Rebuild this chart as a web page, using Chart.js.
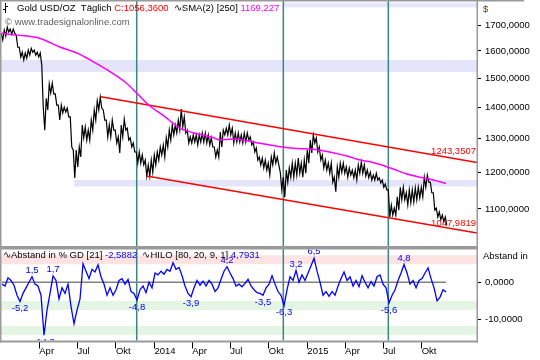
<!DOCTYPE html>
<html>
<head>
<meta charset="utf-8">
<script src="https://cdn.jsdelivr.net/npm/chart.js"></script>
<style>
  html, body { margin: 0; padding: 0; background: #fff; }
  #wrap { position: relative; width: 540px; height: 360px; overflow: hidden; }
  #wrap canvas { position: absolute; left: 0; }
  #priceChart { top: 0; }
  #oscChart { top: 247px; }
</style>
</head>
<body>
<div id="wrap">
  <canvas id="priceChart" width="540" height="247"></canvas>
  <canvas id="oscChart" width="540" height="113"></canvas>
</div>
<script>
// x axis is in calendar days since 1 Jan 2013
const tickDays = [90, 181, 273, 365, 455, 546, 638, 730, 820, 911, 1003];
const tickLabels = ['Apr', 'Jul', 'Okt', '2014', 'Apr', 'Jul', 'Okt', '2015', 'Apr', 'Jul', 'Okt'];
const firstDay = -1.4;
const lastDay = 1135;

// weekly high / low of the daily close
const sampleStartDay = 1;
const sampleStepDays = 7.163;
const goldHigh = [
  1669, 1681, 1693, 1685, 1685, 1661, 1614, 1595, 1592, 1603,
  1610, 1603, 1595, 1592, 1400, 1430, 1479, 1482, 1445, 1407,
  1407, 1400, 1397, 1368, 1265, 1265, 1274, 1342, 1336, 1326,
  1358, 1391, 1421, 1434, 1391, 1358, 1342, 1358, 1326, 1305,
  1342, 1361, 1332, 1302, 1286, 1259, 1259, 1250, 1235, 1221,
  1235, 1250, 1259, 1274, 1280, 1302, 1326, 1342, 1342, 1358,
  1394, 1368, 1326, 1305, 1311, 1311, 1311, 1317, 1317, 1311,
  1302, 1274, 1265, 1320, 1326, 1332, 1342, 1332, 1317, 1317,
  1311, 1317, 1317, 1305, 1289, 1271, 1244, 1241, 1235, 1226,
  1244, 1256, 1244, 1200, 1186, 1206, 1212, 1226, 1226, 1241,
  1226, 1235, 1265, 1295, 1311, 1302, 1274, 1250, 1235, 1226,
  1226, 1186, 1215, 1226, 1226, 1215, 1212, 1206, 1206, 1221,
  1229, 1221, 1206, 1200, 1192, 1197, 1184, 1178, 1167, 1151,
  1110, 1102, 1132, 1158, 1158, 1143, 1151, 1151, 1156, 1158,
  1158, 1186, 1192, 1172, 1143, 1102, 1092, 1084, 1079
];
const goldLow = [
  1642, 1657, 1673, 1665, 1669, 1614, 1577, 1566, 1573, 1584,
  1595, 1584, 1577, 1547, 1326, 1391, 1448, 1445, 1407, 1358,
  1381, 1384, 1368, 1274, 1184, 1215, 1244, 1302, 1295, 1295,
  1326, 1358, 1391, 1397, 1358, 1305, 1305, 1326, 1286, 1256,
  1305, 1326, 1295, 1274, 1259, 1226, 1226, 1221, 1189, 1189,
  1200, 1221, 1235, 1250, 1244, 1274, 1295, 1311, 1317, 1326,
  1336, 1317, 1286, 1286, 1289, 1280, 1289, 1289, 1286, 1280,
  1274, 1244, 1244, 1274, 1311, 1311, 1311, 1286, 1289, 1289,
  1286, 1289, 1295, 1280, 1259, 1235, 1221, 1212, 1206, 1192,
  1221, 1226, 1221, 1151, 1131, 1172, 1186, 1186, 1192, 1197,
  1186, 1197, 1226, 1256, 1286, 1259, 1235, 1212, 1206, 1197,
  1172, 1146, 1186, 1200, 1197, 1186, 1192, 1184, 1178, 1197,
  1197, 1189, 1184, 1178, 1178, 1178, 1170, 1158, 1151, 1079,
  1084, 1084, 1097, 1124, 1124, 1110, 1116, 1118, 1124, 1129,
  1132, 1158, 1172, 1143, 1097, 1079, 1072, 1067, 1058
];

// % distance from the 21 day average, same weekly sampling
const oscValues = [
  -0.5, -1.0, 1.2, 0.5, -0.8, -3.5, -5.2, -3.0, -1.5, 0.0,
  1.5, -0.5, -1.0, -3.5, -14.3, -7.5, -3.0, 1.7, 0.5, -4.5,
  -1.5, -3.0, -0.5, -6.5, -11.2, -7.5, -4.5, 5.0, 3.0, 1.0,
  3.5, 2.8, 4.7, 1.5, -0.5, -3.5, -1.5, -3.5, -2.0, 0.5,
  1.0, -0.5, 0.8, -2.5, -3.0, -4.8, -2.0, -1.0, -2.8, 0.0,
  -1.5, 2.5, 2.0, 3.0, 2.2, 3.5, 3.0, 5.3, 3.5, 4.0,
  1.8, -1.0, -3.0, -3.9, -1.5, 0.5, -0.8, 0.3, -1.0, 0.5,
  -0.5, -2.5, -1.5, 0.8, 3.0, 4.2, 2.5, 1.0, -1.0, -0.5,
  -1.2, -0.3, 0.8, -1.0, -2.0, -2.8, -3.0, -3.5, -1.5, -0.5,
  1.8, -0.5, -2.5, -3.5, -6.3, -2.0, 1.5, 0.5, 3.2, 0.0,
  2.0, 0.5, 2.5, 4.5, 6.5, 3.0, 0.0, -3.5, -2.5, -3.8,
  -2.5, -3.5, -1.0, 1.0, 2.8, 0.5, 1.5, -1.0, 0.5, -1.2,
  1.8, 0.0, -1.5, 0.2, -1.0, 1.5, 2.0, -0.5, -1.5, -5.6,
  -3.5, -2.0, 0.5, 2.5, 4.8, 2.5, -0.5, 0.5, -1.5, 0.5,
  1.0, 2.5, 3.9, 1.0, -1.5, -5.0, -4.0, -2.0, -2.6
];
// samples whose value is written next to the curve
const oscPeakIdx = [6, 10, 14, 17, 45, 63, 75, 87, 94, 98, 104, 129, 134];

// 250 day moving average
const smaDays = [1, 37, 92, 139, 180, 218, 259, 299, 323, 354, 385, 426, 457, 505, 521, 553,
  586, 617, 665, 696, 744, 791, 825, 856, 880, 904, 935, 968, 999, 1030, 1061];
const smaValues = [1668, 1661, 1648, 1615, 1592, 1560, 1523, 1481, 1447, 1404, 1374, 1332, 1318, 1303, 1295, 1298,
  1293, 1285, 1275, 1270, 1267, 1257, 1247, 1235, 1230, 1222, 1209, 1195, 1186, 1178, 1169];

// trend channel
const upperDays = [237, 1135];
const upperValues = [1435, 1228];
const lowerDays = [346, 1135];
const lowerValues = [1189, 1039];
const channelLabels = [1243.3507, 1047.9819];

// shaded zones
const priceBandLow = [1774, 1522, 1160];
const priceBandHigh = [1793, 1566, 1178];
const priceBandFrom = [672, -1.4, 173];
const oscBandLow = [4.9, -7.5, -14.2];
const oscBandHigh = [7.3, -5.05, -11.8];

// vertical marker dates
const markerDays = [322.6, 672.6, 923.3];

const priceTicks = [1100, 1200, 1300, 1400, 1500, 1600, 1700];
const oscTicks = [0, -10];

const lastClose = 1056.36;
const lastSma = 1169.227;
const lastOsc = -2.5882;
const lastHilo = 4.7931;

const FONT = '"Liberation Sans", Arial, sans-serif';
const TXT = '9.5px ' + FONT;
Chart.defaults.font.family = FONT;
Chart.defaults.font.size = 9.5;
Chart.defaults.color = '#000';

const fmt = (v, d) => Number(v).toFixed(d).replace('.', ',');
const xDay = i => sampleStartDay + i * sampleStepDays;
const FRAME = '#9a9a9a';
const TEAL = '#3b8585';

// daily-looking close line: each week visits its high then its low
const goldPoints = [];
goldHigh.forEach((hi, i) => {
  goldPoints.push({ x: xDay(i) - 1.8, y: hi });
  goldPoints.push({ x: xDay(i) + 1.8, y: goldLow[i] });
});

function drawMarkers(chart) {
  const { ctx, chartArea: a, scales: { x } } = chart;
  ctx.save();
  ctx.strokeStyle = TEAL;
  ctx.lineWidth = 1.5;
  markerDays.forEach(d => {
    const px = x.getPixelForValue(d);
    ctx.beginPath();
    ctx.moveTo(px, 0);
    ctx.lineTo(px, a.bottom);
    ctx.stroke();
  });
  ctx.restore();
}

function drawRun(ctx, parts, x, y) {
  parts.forEach(([t, c]) => {
    ctx.fillStyle = c;
    ctx.fillText(t, x, y);
    x += ctx.measureText(t).width;
  });
}

const priceDecor = {
  id: 'priceDecor',
  beforeDatasetsDraw(chart) {
    const { ctx, chartArea: a, scales: { x, y } } = chart;
    ctx.save();
    ctx.fillStyle = 'rgb(228,228,250)';
    priceBandLow.forEach((lo, i) => {
      const x0 = Math.max(a.left, x.getPixelForValue(priceBandFrom[i]));
      const yt = Math.max(a.top, y.getPixelForValue(priceBandHigh[i]));
      const yb = y.getPixelForValue(lo);
      ctx.fillRect(x0, yt, a.right - x0, yb - yt);
    });
    ctx.restore();
    drawMarkers(chart);
  },
  afterDatasetsDraw(chart) {
    const { ctx, chartArea: a, scales: { y } } = chart;
    ctx.save();
    ctx.font = TXT;
    // channel values
    ctx.fillStyle = '#ff0000';
    ctx.textAlign = 'right';
    ctx.textBaseline = 'middle';
    channelLabels.forEach(v => ctx.fillText(fmt(v, 4), a.right - 1, y.getPixelForValue(v) - 6));
    // frame
    ctx.fillStyle = FRAME;
    ctx.fillRect(0, 0, 524, 1.5);
    ctx.fillRect(0, 0, 1.5, a.bottom);
    ctx.fillRect(a.right - 0.5, 0, 1.5, a.bottom);
    ctx.fillRect(0, a.bottom - 1, a.right + 1, 1);
    // header
    ctx.textAlign = 'left';
    ctx.fillStyle = '#000';
    ctx.fillRect(5, 3, 1, 10);
    ctx.fillRect(3, 9, 2, 1);
    ctx.fillRect(6, 6, 2, 1);
    drawRun(ctx, [['Gold USD/OZ  T\u00e4glich ', '#000'], ['C:' + fmt(lastClose, 4), '#ff0000'],
      ['  \u223FSMA(2) [250] ', '#000'], [fmt(lastSma, 3), '#ff00ff']], 17, 8);
    ctx.fillStyle = '#606060';
    ctx.fillText('\u00a9 www.tradesignalonline.com', 5, 22);
    ctx.fillStyle = '#5a4000';
    ctx.fillText('$', 483, 9);
    ctx.restore();
  }
};

const oscDecor = {
  id: 'oscDecor',
  beforeDatasetsDraw(chart) {
    const { ctx, chartArea: a, scales: { y } } = chart;
    ctx.save();
    oscBandLow.forEach((lo, i) => {
      ctx.fillStyle = oscBandHigh[i] > 0 ? 'rgb(255,226,226)' : 'rgb(228,245,228)';
      const yt = y.getPixelForValue(oscBandHigh[i]);
      const yb = y.getPixelForValue(lo);
      ctx.fillRect(a.left, yt, a.right - a.left, yb - yt);
    });
    ctx.restore();
    drawMarkers(chart);
  },
  afterDatasetsDraw(chart) {
    const { ctx, chartArea: a, scales: { x, y } } = chart;
    ctx.save();
    ctx.font = TXT;
    ctx.beginPath();
    ctx.rect(a.left, a.top - 1.5, a.right - a.left, a.bottom - a.top + 1.5);
    ctx.clip();
    ctx.fillStyle = '#0000ff';
    ctx.textAlign = 'center';
    ctx.textBaseline = 'middle';
    oscPeakIdx.forEach(i => {
      const v = oscValues[i];
      const px = x.getPixelForValue(xDay(i));
      const py = y.getPixelForValue(v);
      ctx.fillText(fmt(v, 1), px, v >= 0 ? py - 6.5 : py + 7);
    });
    ctx.restore();

    ctx.save();
    ctx.fillStyle = FRAME;
    ctx.fillRect(0, 0, a.right + 1, 2.5);
    ctx.fillRect(0, 0, 1.5, a.bottom + 2);
    ctx.fillRect(a.right - 0.5, 0, 1.5, a.bottom + 2);
    ctx.fillRect(0, a.bottom, a.right + 1, 2);
    ctx.font = TXT;
    ctx.textBaseline = 'middle';
    ctx.textAlign = 'left';
    drawRun(ctx, [['\u223FAbstand in % GD [21] ', '#000'], [fmt(lastOsc, 4), '#0000ff'],
      ['  \u223FHILO [80, 20, 9, 1] ', '#000'], [fmt(lastHilo, 4), '#0000ff']], 3, 8);
    ctx.fillStyle = '#000';
    ctx.fillText('Abstand in', 483, 9);
    ctx.restore();
  }
};

const common = {
  responsive: false,
  animation: false,
  events: [],
  elements: { point: { radius: 0 }, line: { tension: 0 } },
  plugins: { legend: { display: false }, tooltip: { enabled: false } }
};

new Chart(document.getElementById('priceChart'), {
  type: 'line',
  data: {
    datasets: [
      { data: smaDays.map((d, i) => ({ x: d, y: smaValues[i] })), borderColor: '#ff00ff', borderWidth: 1.5, cubicInterpolationMode: 'monotone' },
      { data: upperDays.map((d, i) => ({ x: d, y: upperValues[i] })), borderColor: '#ff0000', borderWidth: 1.5 },
      { data: lowerDays.map((d, i) => ({ x: d, y: lowerValues[i] })), borderColor: '#ff0000', borderWidth: 1.5 },
      { data: goldPoints, borderColor: '#000', borderWidth: 1.2 }
    ]
  },
  options: {
    ...common,
    layout: { padding: { left: 1, top: 1, right: 0, bottom: 0 } },
    scales: {
      x: { type: 'linear', min: firstDay, max: lastDay, display: false },
      y: {
        type: 'logarithmic', position: 'right', min: 1005, max: 1801,
        afterFit: s => { s.width = 63; s.paddingTop = 0; s.paddingBottom = 0; },
        afterBuildTicks: s => { s.ticks = priceTicks.map(v => ({ value: v })); },
        grid: { drawOnChartArea: false, drawTicks: true, tickLength: 4, color: '#000' },
        border: { display: false },
        ticks: { padding: 4, callback: v => fmt(v, 4) }
      }
    }
  },
  plugins: [priceDecor]
});

new Chart(document.getElementById('oscChart'), {
  type: 'line',
  data: {
    datasets: [
      { data: oscValues.map((v, i) => ({ x: xDay(i), y: v })), borderColor: '#0000ff', borderWidth: 1.3 },
      { data: [{ x: xDay(0), y: 0 }, { x: xDay(oscValues.length - 1), y: 0 }], borderColor: '#808080', borderWidth: 1.5 }
    ]
  },
  options: {
    ...common,
    layout: { padding: { left: 1, top: 2.5, right: 0, bottom: 0 } },
    scales: {
      x: {
        type: 'linear', position: 'bottom', min: firstDay, max: lastDay,
        afterFit: s => { s.height = 19.5; s.paddingLeft = 0; s.paddingRight = 0; },
        afterBuildTicks: s => { s.ticks = tickDays.map(v => ({ value: v })); },
        grid: { drawOnChartArea: false, drawTicks: true, tickLength: 8, color: '#000' },
        border: { display: false },
        ticks: { align: 'start', padding: -3, maxRotation: 0, autoSkip: false, callback: (v, i) => tickLabels[i] }
      },
      y: {
        type: 'linear', position: 'right', min: -15.73, max: 8.86,
        afterFit: s => { s.width = 63; s.paddingTop = 0; s.paddingBottom = 0; },
        afterBuildTicks: s => { s.ticks = oscTicks.map(v => ({ value: v })); },
        grid: { drawOnChartArea: false, drawTicks: true, tickLength: 4, color: '#000' },
        border: { display: false },
        ticks: { padding: 4, callback: v => fmt(v, 4) }
      }
    }
  },
  plugins: [oscDecor]
});
</script>
</body>
</html>
